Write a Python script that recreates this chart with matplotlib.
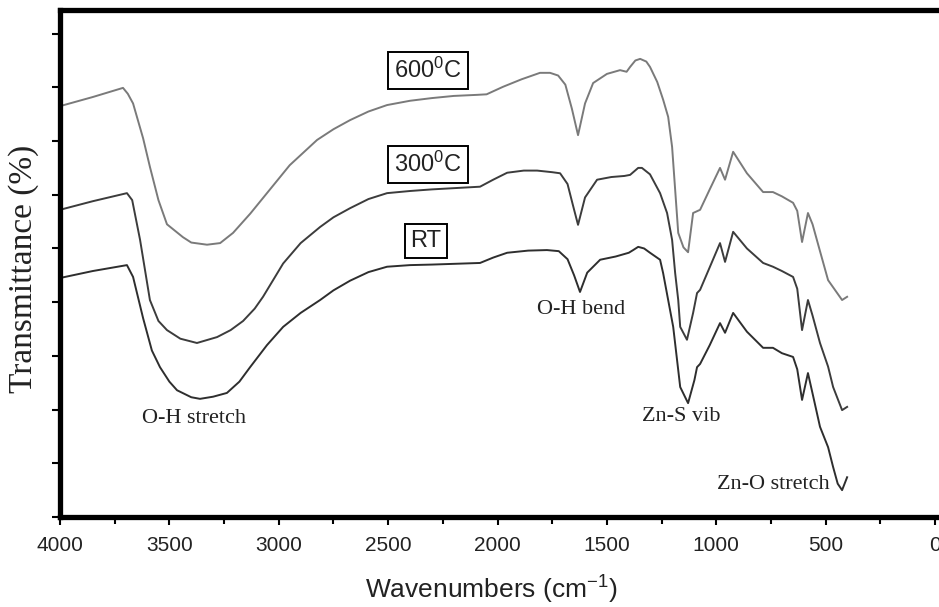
import numpy as np
import matplotlib
matplotlib.use('Agg')
import matplotlib.pyplot as plt

plt.rcParams['font.family'] = ['Liberation Sans', 'DejaVu Sans']
plt.rcParams['mathtext.fontset'] = 'custom'
plt.rcParams['mathtext.rm'] = 'Liberation Sans'
plt.rcParams['mathtext.it'] = 'Liberation Sans'

# FTIR spectra (wavenumber in cm-1, transmittance in arbitrary offset units)
wn_600 = [4000, 3850, 3712, 3690, 3666, 3620, 3589, 3550, 3511, 3438, 3400, 3328, 3268, 3209,
          3130, 3054, 2950, 2825, 2750, 2674, 2590, 2505, 2400, 2300, 2200, 2094, 2050, 1975,
          1890, 1806, 1760, 1723, 1690, 1660, 1632, 1600, 1563, 1500, 1440, 1410, 1394, 1370,
          1348, 1320, 1303, 1270, 1243, 1220, 1202, 1188, 1174, 1150, 1129, 1106, 1074, 1030,
          983, 960, 923, 860, 786, 741, 700, 649, 630, 608, 581, 560, 526, 489, 425, 402]
t_600 = [7.65, 7.82, 7.99, 7.88, 7.70, 7.05, 6.52, 5.90, 5.45, 5.21, 5.11, 5.07, 5.10, 5.29,
         5.65, 6.03, 6.55, 7.02, 7.22, 7.39, 7.55, 7.67, 7.75, 7.80, 7.84, 7.86, 7.87, 8.01,
         8.15, 8.27, 8.27, 8.22, 8.05, 7.60, 7.11, 7.70, 8.08, 8.25, 8.32, 8.29, 8.38, 8.50,
         8.53, 8.48, 8.38, 8.10, 7.77, 7.45, 6.89, 6.09, 5.29, 5.02, 4.93, 5.66, 5.72, 6.10,
         6.50, 6.28, 6.80, 6.40, 6.05, 6.05, 5.97, 5.85, 5.70, 5.12, 5.66, 5.45, 4.95, 4.41,
         4.04, 4.10]

wn_300 = [4000, 3850, 3694, 3670, 3634, 3589, 3550, 3511, 3450, 3374, 3282, 3220, 3163, 3110,
          3072, 3020, 2980, 2900, 2811, 2750, 2674, 2590, 2505, 2400, 2300, 2080, 2020, 1956,
          1880, 1819, 1750, 1714, 1680, 1655, 1632, 1600, 1545, 1480, 1420, 1394, 1357, 1340,
          1303, 1257, 1225, 1202, 1188, 1174, 1165, 1134, 1106, 1088, 1074, 1030, 983, 960, 923,
          860, 786, 741, 700, 649, 630, 608, 581, 560, 526, 489, 466, 425, 402]
t_300 = [5.72, 5.88, 6.03, 5.90, 5.16, 4.04, 3.65, 3.48, 3.32, 3.24, 3.35, 3.48, 3.65, 3.88,
         4.10, 4.45, 4.72, 5.10, 5.40, 5.58, 5.75, 5.92, 6.03, 6.07, 6.10, 6.15, 6.28, 6.41,
         6.45, 6.45, 6.42, 6.40, 6.20, 5.80, 5.44, 5.95, 6.28, 6.33, 6.35, 6.37, 6.50, 6.50,
         6.38, 6.03, 5.66, 5.16, 4.54, 4.04, 3.54, 3.30, 3.80, 4.17, 4.23, 4.65, 5.10, 4.75,
         5.31, 5.00, 4.73, 4.66, 4.58, 4.47, 4.25, 3.48, 4.04, 3.75, 3.24, 2.80, 2.42, 1.99,
         2.05]

wn_rt = [4000, 3850, 3694, 3666, 3620, 3580, 3543, 3500, 3465, 3400, 3360, 3300, 3237, 3180,
         3131, 3054, 2980, 2900, 2811, 2750, 2674, 2590, 2505, 2400, 2300, 2080, 2020, 1956,
         1860, 1774, 1720, 1680, 1650, 1623, 1590, 1531, 1460, 1400, 1380, 1357, 1330, 1303,
         1257, 1243, 1197, 1165, 1129, 1100, 1088, 1074, 1030, 983, 960, 923, 860, 786, 741,
         700, 649, 630, 608, 581, 560, 526, 489, 466, 445, 425, 402]
t_rt = [4.45, 4.58, 4.69, 4.47, 3.70, 3.10, 2.79, 2.52, 2.36, 2.23, 2.20, 2.24, 2.31, 2.52,
        2.79, 3.20, 3.54, 3.80, 4.04, 4.22, 4.40, 4.56, 4.66, 4.69, 4.70, 4.73, 4.83, 4.92,
        4.96, 4.97, 4.95, 4.80, 4.50, 4.19, 4.55, 4.79, 4.85, 4.92, 4.97, 5.03, 5.00, 4.92,
        4.79, 4.54, 3.54, 2.42, 2.12, 2.55, 2.79, 2.85, 3.20, 3.61, 3.43, 3.80, 3.45, 3.15,
        3.15, 3.05, 2.98, 2.75, 2.18, 2.68, 2.30, 1.68, 1.30, 0.93, 0.62, 0.50, 0.74]

sample_labels = [r'600$^{0}$C', r'300$^{0}$C', 'RT']
label_pos = [(2318, 8.32), (2318, 6.57), (2327, 5.14)]

peak_names = ['O-H stretch', 'O-H bend', 'Zn-S vib', 'Zn-O stretch']
peak_pos = [(3387, 1.84), (1618, 3.87), (1161, 1.88), (740, 0.61)]

fig = plt.figure(figsize=(9.39, 6.07), dpi=100)
ax = fig.add_axes([60 / 939, 1 - 517 / 607, 879 / 939, 507 / 607])

ax.plot(wn_600, t_600, color='#7a7a7a', lw=1.4)
ax.plot(wn_300, t_300, color='#3c3c3c', lw=1.4)
ax.plot(wn_rt, t_rt, color='#2e2e2e', lw=1.4)

ax.set_xlim(4000, -18)
ax.set_ylim(0, 9.44)

for s in ['left', 'top', 'bottom']:
    ax.spines[s].set_linewidth(3.8)
ax.spines['right'].set_visible(False)

ax.set_xticks(np.arange(0, 4001, 500))
ax.set_xticks(np.arange(250, 4000, 500), minor=True)
ax.set_yticks(np.arange(0, 10, 1))
ax.set_yticklabels([])
ax.tick_params(axis='x', which='major', direction='out', length=6, width=1.5,
               labelsize=15, pad=8, colors='black')
ax.tick_params(axis='x', which='minor', direction='out', length=5, width=1.5)
ax.tick_params(axis='y', which='major', direction='out', length=6, width=1.5)
for lab in ax.get_xticklabels():
    lab.set_color('#222222')

for txt, (x, y) in zip(sample_labels, label_pos):
    ax.text(x, y, txt, fontsize=17, ha='center', va='center', color='#222222',
            bbox=dict(boxstyle='square,pad=0.25', fc='white', ec='black', lw=1.4))

for txt, (x, y) in zip(peak_names, peak_pos):
    ax.text(x, y, txt, fontsize=16, ha='center', va='center', color='#222222',
            family='Liberation Serif')

ax.set_ylabel('Transmittance (%)', fontsize=24, family='Liberation Serif',
              color='#222222', va='center')
ax.yaxis.set_label_coords(-0.041, 0.489)
ax.set_xlabel(r'Wavenumbers (cm$^{-1}$)', fontsize=19, color='#222222', va='center')
ax.xaxis.set_label_coords(0.491, -0.144)

fig.savefig('out.png', dpi=100)
